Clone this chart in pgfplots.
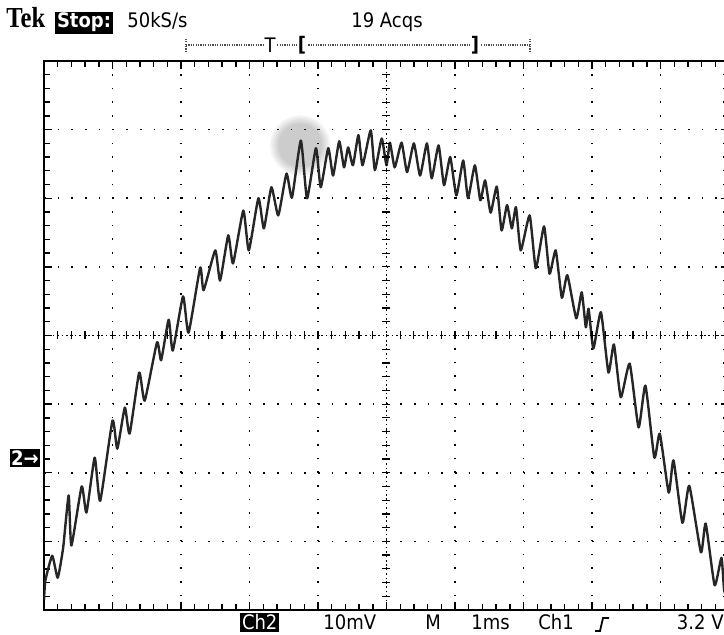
\documentclass[border=0pt]{standalone}
\usepackage{pgfplots}
\pgfplotsset{compat=1.18}
\usepackage{fontspec}
\setmainfont{DejaVu Sans Condensed}
\newfontfamily\tekfont{Liberation Serif}

\begin{document}
\begin{tikzpicture}
\fontsize{10}{12}\selectfont
% graticule: 10 x 8 divisions, one unit = one division
\begin{axis}[
  at={(0pt,0pt)}, anchor=south west,
  scale only axis, width=342.5pt, height=274.5pt,
  xmin=0, xmax=10, ymin=-4, ymax=4,
  xtick distance=1, ytick distance=1,
  minor x tick num=4, minor y tick num=4,
  xticklabels={}, yticklabels={},
  tick align=inside,
  major tick length=4pt, minor tick length=2.8pt,
  every tick/.style={black, line width=0.7pt},
  grid=major,
  major grid style={black, line width=0.8pt, dash pattern=on 0.8pt off 6.05pt},
  axis line style={black, line width=1.1pt},
]
% grey cursor blob
\fill[black, opacity=0.045] (axis cs:3.74,2.77) circle[radius=15pt];
\fill[black, opacity=0.045] (axis cs:3.74,2.77) circle[radius=14pt];
\fill[black, opacity=0.045] (axis cs:3.74,2.77) circle[radius=13pt];
\fill[black, opacity=0.045] (axis cs:3.74,2.77) circle[radius=12pt];
\fill[black, opacity=0.045] (axis cs:3.74,2.77) circle[radius=11pt];

% Ch2 trace, time in divisions (1 ms/div), level in divisions (10 mV/div)
\addplot[color=black!85, line width=1.2pt, line join=round, smooth, tension=0.3] coordinates {
(0.00,-3.86) (0.02,-3.57) (0.12,-3.21) (0.20,-3.53) (0.28,-3.09) (0.36,-2.33)
(0.40,-3.06) (0.55,-2.20) (0.62,-2.58) (0.74,-1.78) (0.82,-2.41) (1.00,-1.24)
(1.07,-1.65) (1.18,-1.05) (1.25,-1.43) (1.39,-0.54) (1.47,-0.95) (1.65,-0.10)
(1.71,-0.36) (1.82,0.23) (1.88,-0.22) (2.03,0.57) (2.11,0.04) (2.28,0.99)
(2.33,0.66) (2.50,1.24) (2.57,0.80) (2.69,1.46) (2.76,1.05) (2.91,1.82)
(2.99,1.24) (3.13,2.00) (3.21,1.56) (3.32,2.16) (3.42,1.75) (3.54,2.36)
(3.62,2.01) (3.75,2.84) (3.84,2.00) (3.97,2.73) (4.04,2.16) (4.15,2.73)
(4.22,2.33) (4.31,2.83) (4.38,2.45) (4.44,2.74) (4.51,2.48) (4.59,2.92)
(4.65,2.48) (4.77,2.99) (4.83,2.41) (4.93,2.87) (5.00,2.48) (5.05,2.81)
(5.12,2.45) (5.22,2.81) (5.30,2.38) (5.40,2.80) (5.49,2.33) (5.59,2.80)
(5.66,2.29) (5.76,2.77) (5.84,2.19) (5.93,2.60) (6.02,2.04) (6.12,2.55)
(6.19,2.00) (6.29,2.48) (6.37,1.97) (6.44,2.26) (6.52,1.79) (6.61,2.17)
(6.68,1.53) (6.76,1.90) (6.83,1.56) (6.89,1.87) (6.96,1.24) (7.09,1.75)
(7.18,0.98) (7.30,1.59) (7.38,0.90) (7.47,1.24) (7.56,0.55) (7.64,0.88)
(7.77,0.25) (7.85,0.63) (7.91,0.12) (7.95,0.39) (8.02,-0.19) (8.13,0.34)
(8.24,-0.54) (8.32,-0.13) (8.42,-0.90) (8.55,-0.41) (8.68,-1.34) (8.78,-0.73)
(8.91,-1.78) (8.99,-1.43) (9.12,-2.29) (9.19,-1.82) (9.32,-2.73) (9.42,-2.19)
(9.59,-3.16) (9.66,-2.74) (9.79,-3.64) (9.89,-3.24) (9.93,-3.72) (10.00,-3.86)
};
\end{axis}

% centre crosshair with fine ticks
\begin{axis}[
  at={(0pt,0pt)}, anchor=south west,
  scale only axis, width=342.5pt, height=274.5pt,
  xmin=-5, xmax=5, ymin=-4, ymax=4,
  axis lines=middle,
  axis line style={-, black, line width=0.8pt, dash pattern=on 0.8pt off 1.4pt},
  xtick={-4.8,-4.6,...,4.9}, ytick={-3.8,-3.6,...,3.9},
  xticklabels={}, yticklabels={},
  tick align=center, major tick length=4pt,
  every tick/.style={black, line width=0.6pt},
]
\end{axis}

% header
\node[anchor=base west, inner sep=0pt] at (-19pt,291pt)
  {\scalebox{0.85}[1]{\tekfont\bfseries\fontsize{14.5}{14.5}\selectfont Tek}};
\node[anchor=base west, fill=black, text=white, inner sep=0.8pt, font=\bfseries]
  at (5.5pt,291pt) {Stop:};
\node[anchor=base west, inner sep=0pt] at (41.5pt,291pt) {50kS/s};
\node[anchor=base west, inner sep=0pt] at (153.5pt,291pt) {19 Acqs};

% trigger position bar
\draw[black!70, line width=0.6pt, dash pattern=on 0.6pt off 0.6pt]
  (71pt,282.5pt) -- (243pt,282.5pt);
\draw[black!70, line width=0.6pt, dash pattern=on 0.6pt off 0.6pt]
  (71pt,279pt) -- (71pt,286pt) (243pt,279pt) -- (243pt,286pt);
\node[fill=white, inner sep=0.3pt] at (113pt,282.5pt) {T};
\node[fill=white, inner sep=0.3pt, font=\bfseries] at (129pt,282.5pt) {[};
\node[fill=white, inner sep=0.3pt, font=\bfseries] at (215.5pt,282.5pt) {]};

% ground marker
\node[fill=black, text=white, inner sep=0.8pt, font=\bfseries] at (-9.5pt,76pt) {2→};

% footer
\node[anchor=base west, fill=black, text=white, inner sep=0.8pt] at (98pt,-10pt) {Ch2};
\node[anchor=base west, inner sep=0pt] at (139.5pt,-10pt) {10mV};
\node[anchor=base west, inner sep=0pt] at (190.5pt,-10pt) {M};
\node[anchor=base west, inner sep=0pt] at (213.5pt,-10pt) {1ms};
\node[anchor=base west, inner sep=0pt] at (247pt,-10pt) {Ch1};
\draw[black, line width=0.9pt] (275.5pt,-10.5pt) -- (278pt,-10.5pt) -- (279.5pt,-4pt) -- (282.5pt,-4pt);
\node[anchor=base east, inner sep=0pt] at (340pt,-10pt) {3.2 V};

\pgfresetboundingbox
\useasboundingbox (-22pt,-12.5pt) rectangle (340pt,305pt);
\end{tikzpicture}
\end{document}
